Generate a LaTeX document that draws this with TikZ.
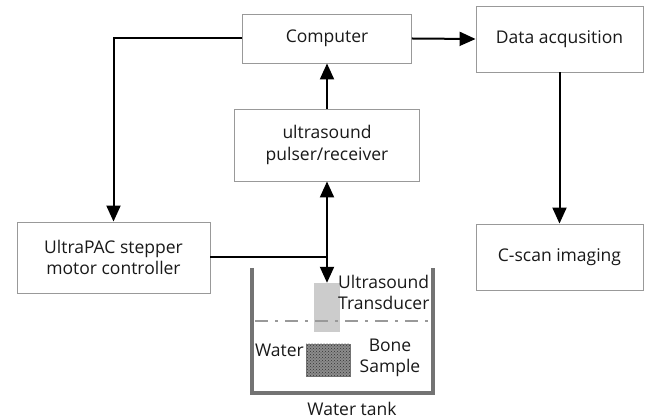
\documentclass[tikz,border=0pt]{standalone}
\usepackage{fontspec}
\setmainfont{Open Sans}
\usetikzlibrary{arrows.meta,patterns}

\begin{document}
\begin{tikzpicture}[x=1pt,y=-1pt,
  blk/.style={draw=black!40,line width=0.9pt,fill=white,inner sep=0pt,
    align=center,text=black!90,font=\fontsize{17.5}{21.5}\selectfont},
  lbl/.style={inner sep=0pt,align=left,text=black!90,font=\fontsize{17.5}{21}\selectfont},
  wire/.style={line width=2pt,black},
  tip/.style={-{Triangle[length=16pt,width=14pt]}},
  link/.style={wire,tip},
  tankwall/.style={line width=4pt,black!55}]
\useasboundingbox (0,0) rectangle (651,419);

% Blocks of the set-up.
\node[blk,minimum width=169pt,minimum height=49pt] (computer) at (327,38.5) {Computer};
\node[blk,minimum width=167pt,minimum height=66pt] (daq) at (559.5,39) {Data acqusition};
\node[blk,minimum width=167pt,minimum height=66pt] (cscan) at (559.5,257) {C-scan imaging};
\node[blk,minimum width=185pt,minimum height=72pt] (pulser) at (327,145) {ultrasound\\pulser/receiver};
\node[blk,minimum width=193pt,minimum height=71pt] (stepper) at (113.5,257.5) {UltraPAC stepper\\motor controller};

% Water tank.
\draw[tankwall] (252,268) -- (252,393) -- (433,393) -- (433,268);
\node[draw=black!20,fill=black!20,inner sep=0pt,minimum width=25pt,minimum height=48pt]
  (transducer) at (327,307) {};
\draw[black!40,line width=1.6pt,dash pattern=on 13pt off 7pt on 3pt off 7pt]
  (255,321) -- (431,321);
\fill[black!45] (306,344) rectangle (350,376);
\node[draw=black!55,pattern=crosshatch dots,pattern color=black!80,
  inner sep=0pt,minimum width=44pt,minimum height=32pt] (bone) at (328,360) {};

\node[lbl,anchor=west] (translbl) at (338,292.5) {Ultrasound\\Transducer};
\node[lbl,anchor=east] (water) at (304,350) {Water};
\node[lbl,align=center] (bonelbl) at (390,358) {Bone\\Sample};
\node[lbl] (tank) at (352,409) {Water tank};

% Connections.
\draw[link] (computer.east) -- (daq.west);
\draw[link] (daq.south) -- (cscan.north);
\draw[link] (pulser.north) -- (computer.south);
\draw[link] (computer.west) -| (stepper.north);
\draw[wire,{Triangle[length=16pt,width=14pt]}-{Triangle[length=16pt,width=14pt]}]
  (pulser.south) -- (transducer.north);
\draw[wire] (stepper.east) -- (stepper.east -| transducer.north);
\end{tikzpicture}
\end{document}
